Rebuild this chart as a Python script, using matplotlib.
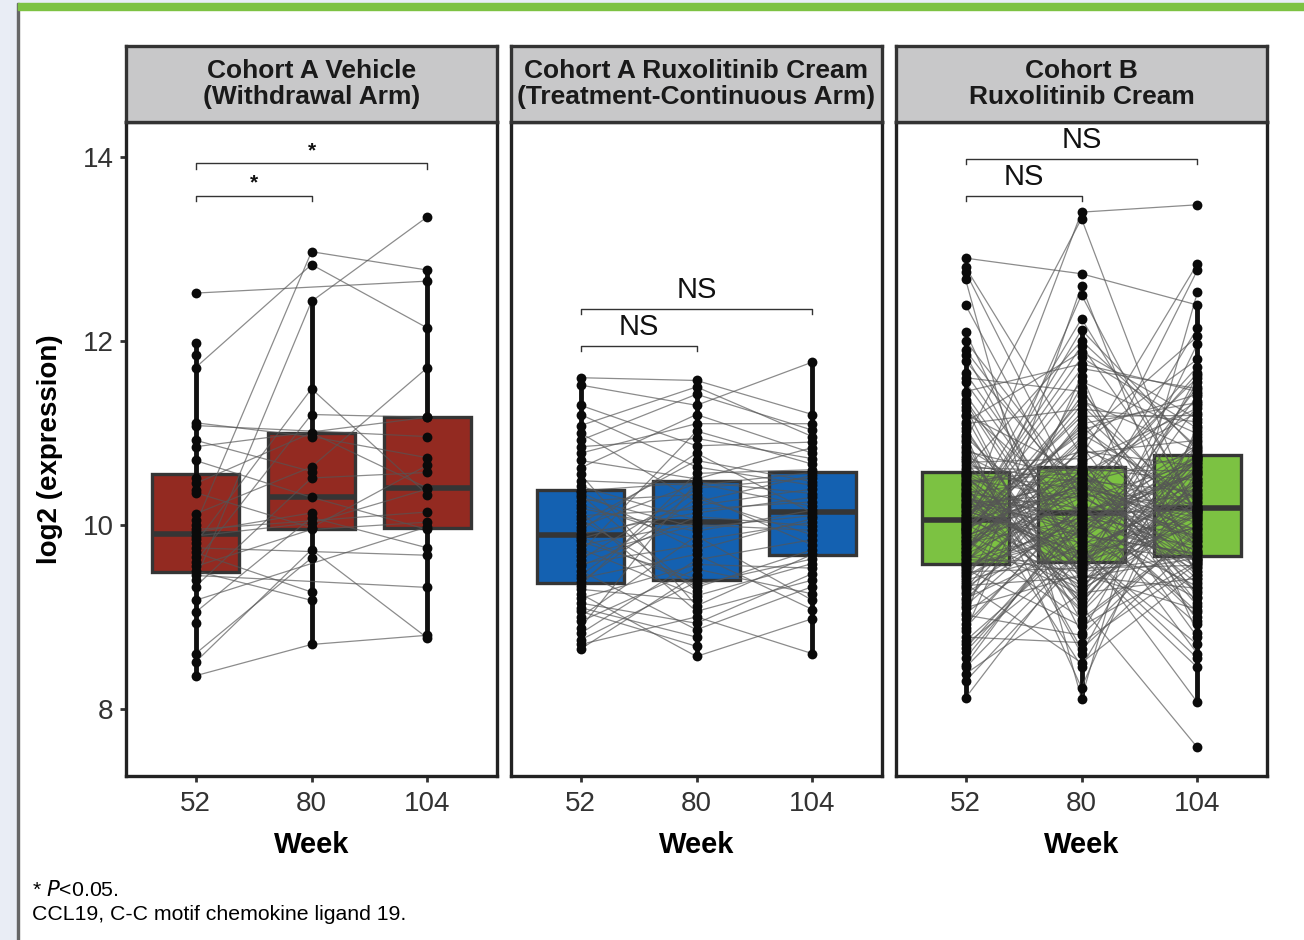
import numpy as np
import matplotlib.pyplot as plt
from matplotlib.patches import Rectangle

plt.rcParams['font.family'] = ['Liberation Sans', 'DejaVu Sans']

nan = np.nan

weeks = ["52", "80", "104"]
titles = ["Cohort A Vehicle\n(Withdrawal Arm)",
          "Cohort A Ruxolitinib Cream\n(Treatment-Continuous Arm)",
          "Cohort B\nRuxolitinib Cream"]
box_colors = ["#932a21", "#1461b1", "#7cc242"]

# Cohort A vehicle, one entry per patient
veh_w52 = [12.52, 11.98, 11.85, 11.71, 11.11, 11.08, 10.92, 10.85, 10.70, 10.51,
           10.45, 10.38, 10.35, 10.12, 10.05, 10.00, 9.95, 9.92, 9.88, 9.85,
           9.80, 9.75, 9.70, 9.65, 9.60, 9.55, 9.50, 9.45, 9.40, 9.33,
           9.18, 9.05, 8.93, 8.60, 8.51, 8.36]
veh_w80 = [nan, nan, nan, 12.83, 10.96, nan, 10.58, nan, 10.30, nan,
           11.00, nan, 9.97, 10.63, nan, 12.97, nan, 10.13, 10.02, nan,
           11.48, nan, 9.27, nan, 11.20, 9.95, 9.18, nan, 12.43, 10.51,
           nan, 10.08, nan, 9.64, 9.73, 8.70]
veh_w104 = [12.65, nan, nan, 12.14, 10.73, 10.96, nan, 11.17, 9.95, nan,
            10.40, nan, 10.65, 11.71, nan, 12.77, 10.14, nan, 10.39, nan,
            10.33, 9.67, nan, nan, 11.17, 10.03, nan, 9.32, 13.35, 10.57,
            9.98, 9.75, nan, nan, 8.77, 8.80]

# Cohort A ruxolitinib cream (treatment-continuous)
rux_w52 = [9.90, 8.65, 10.70, 9.50, 11.60, 9.38, 9.06, 10.22, 9.74, 10.02,
           8.82, 10.42, 10.30, 11.52, 9.62, 9.25, 8.95, 10.85, 10.14, 9.85,
           9.45, 9.15, 10.36, 11.08, 10.55, 9.98, 9.70, 9.00, 9.34, 9.82,
           11.20, 10.06, 10.18, 8.70, 9.55, 10.92, 11.30, 9.66, 10.33, 9.20,
           9.87, 10.62, 8.88, 10.10, 9.10, 10.26, 10.78, 9.42, 10.48, 9.30,
           9.94, 9.78, 9.58, 11.00, 8.75, 10.37]
rux_w80 = [10.13, 9.46, 10.50, 8.86, 11.57, 10.29, 8.68, 9.83, 9.23, 10.70,
           9.62, 10.05, 9.97, 11.30, 10.40, 8.57, 9.52, 10.94, 9.06, 10.21,
           10.37, 8.93, 9.73, 11.50, 9.12, 10.45, 11.02, 9.88, 10.56, 9.41,
           10.63, 9.32, 9.93, 9.00, 10.09, 11.42, 10.86, 10.00, 9.28, 9.57,
           9.35, 11.20, 10.47, 10.17, 8.78, 10.33, 11.10, 9.68, 10.43, 9.18,
           10.78, 10.02, 9.78, 10.25, 9.38, 10.46]
rux_w104 = [10.30, nan, 10.84, 9.33, 11.20, 9.89, nan, 10.03, 9.58, 10.47,
            9.84, nan, 10.10, 11.77, 10.51, 8.98, 9.25, 10.72, 9.40, 10.39,
            nan, 9.47, 10.07, 10.96, 9.68, 10.20, 10.66, 9.18, 10.60, nan,
            10.43, 9.73, 10.16, 8.60, 9.99, 11.03, 10.90, 9.94, nan, 9.53,
            9.63, 10.78, 10.34, 10.25, nan, 9.78, 11.10, 9.08, 10.57, nan,
            10.13, nan, nan, 10.54, nan, nan]

# Cohort B ruxolitinib cream
cb_w52 = [10.22, 9.30, 11.05, 9.88, 8.62, 10.44, 9.70, 12.90, 10.06, 9.49,
          9.96, 11.55, 10.36, 8.98, 10.75, 9.62, 9.15, 12.10, 10.50, 9.80,
          11.28, 9.58, 10.14, 8.45, 9.90, 10.60, 9.42, 10.30, 12.67, 9.74,
          8.85, 10.55, 9.66, 11.90, 10.08, 9.04, 10.40, 9.98, 10.92, 8.30,
          9.84, 10.18, 12.80, 9.56, 10.26, 9.68, 11.12, 8.70, 10.01, 10.47,
          9.25, 10.86, 9.92, 10.34, 11.65, 9.10, 9.60, 10.12, 8.12, 10.70,
          9.78, 10.42, 12.39, 9.52, 10.03, 9.38, 10.20, 11.36, 8.92, 9.86,
          10.57, 10.98, 9.46, 9.72, 10.28, 8.38, 11.78, 9.94, 10.16, 9.34,
          10.65, 9.64, 10.38, 8.78, 12.75, 10.04, 9.54, 10.53, 11.20, 9.76,
          9.20, 10.10, 12.00, 9.82, 8.55, 10.32, 10.80, 10.00, 10.24, 11.45,
          9.87, 10.31, 8.74, 11.10, 10.07, 9.44, 10.68, 9.63, 10.49, 9.18,
          11.42, 9.95, 10.19, 9.02, 10.84, 9.71, 10.39, 9.51, 10.96, 9.99,
          8.48, 10.54, 11.25, 9.79, 10.11, 9.36, 10.62, 9.91, 10.43, 8.88,
          11.85, 9.59, 10.27, 9.48, 10.78, 10.04, 10.15, 9.27, 11.02, 9.75,
          9.12, 10.52, 11.18, 9.67, 10.35, 9.55, 10.73, 9.93, 10.23, 8.66,
          11.60, 9.83, 10.46, 9.40, 10.90, 9.97, 10.56, 9.32, 11.33, 10.02]
cb_w80 = [9.67, 10.86, 9.21, 10.36, 9.99, 8.46, 11.40, 12.73, 13.40, 9.53,
          10.44, 9.81, 9.05, 12.60, 10.14, 9.60, 10.70, 9.40, 10.28, 10.07,
          8.82, 11.14, 10.52, 9.74, 9.30, 12.00, 10.16, 9.90, 8.11, 10.58,
          11.62, 9.84, 9.49, 10.24, 10.99, 9.95, 9.16, 10.40, 13.33, 9.65,
          8.98, 10.48, 10.75, 10.03, 9.56, 10.30, 11.88, 9.72, 9.34, 10.62,
          10.11, 8.60, 11.22, 10.18, 9.86, 9.46, 10.54, 12.24, 9.77, 9.11,
          10.34, 10.80, 10.05, 8.90, 10.42, 11.50, 9.62, 9.55, 10.22, 10.20,
          9.93, 8.23, 10.60, 10.92, 10.12, 9.26, 10.32, 11.06, 9.70, 9.43,
          10.46, 12.50, 10.01, 8.72, 10.26, 11.95, 9.88, 9.51, 10.56, 10.66,
          9.79, 9.37, 10.38, 11.30, 10.09, 9.57, 10.50, 12.12, 9.97, 11.75,
          10.45, 9.08, 9.85, 11.26, 9.52, 10.15, 10.72, 9.96, 9.29, 10.55,
          9.64, 11.03, 10.31, 8.80, 10.06, 10.89, 9.44, 10.41, 9.76, 11.56,
          10.19, 9.19, 10.12, 10.68, 9.89, 8.50, 10.59, 11.35, 9.69, 10.27,
          9.56, 10.83, 10.00, 10.49, 9.14, 11.82, 9.80, 10.61, 9.33, 10.95,
          10.23, 9.61, 8.95, 11.10, 10.51, 9.92, 9.48, 10.78, 10.35, 10.04,
          11.45, 9.24, 10.57, 9.73, 8.65, 11.18, 10.39, 10.10, 9.39, 11.70]
cb_w104 = [10.42, 9.22, 10.96, 9.84, 8.92, 10.60, 9.73, 12.39, 13.48, 9.56,
           10.14, 11.40, 10.30, 9.38, 10.56, 9.98, 9.15, 11.97, 10.68, 9.89,
           11.02, 9.61, 10.21, 8.55, 10.06, 10.84, 9.50, 10.45, 12.53, 9.78,
           8.82, 10.72, 9.67, 11.65, 10.27, 9.33, 10.51, 10.12, 10.00, 8.45,
           9.92, 10.36, 12.84, 9.62, 10.62, 9.71, 11.15, 8.70, 10.16, 10.48,
           9.28, 10.90, 10.04, 10.33, 11.50, 9.08, 9.76, 10.19, 8.07, 7.58,
           10.08, 10.64, 12.14, 9.60, 10.02, 9.46, 10.24, 11.30, 9.00, 9.95,
           10.75, 11.08, 9.53, 9.81, 10.54, 9.42, 11.72, 10.15, 10.39, 9.64,
           10.78, 10.10, 10.58, 9.58, 12.77, 10.13, 9.69, 10.70, 11.22, 9.87,
           9.63, 10.66, 11.60, 10.17, 10.87, 10.73, 11.35, 10.81, 10.74, 11.45,
           9.94, 10.63, 9.20, 11.12, 10.38, 9.72, 8.96, 10.85, 10.14, 9.45,
           10.50, 11.42, 9.59, 10.01, 10.25, 11.80, 9.31, 9.86, 10.71, 10.99,
           9.05, 10.43, 10.16, 11.27, 9.68, 9.49, 10.59, 10.80, 9.97, 8.60,
           11.55, 10.29, 9.77, 9.41, 10.74, 11.05, 10.09, 9.26, 10.47, 12.05,
           9.54, 10.20, 9.90, 11.33, 8.78, 10.67, 10.17, 10.92, 9.36, 10.55,
           10.05, 11.63, 9.12, 10.34, 9.82, 11.19, 9.63, 10.75, 10.11, 11.48]

cohorts = [(veh_w52, veh_w80, veh_w104),
           (rux_w52, rux_w80, rux_w104),
           (cb_w52, cb_w80, cb_w104)]

# significance labels: (label, bracket y for 52-80, bracket y for 52-104)
sig = [("*", 13.58, 13.93), ("NS", 11.95, 12.35), ("NS", 13.58, 13.98)]

W, H = 1304, 940
fig = plt.figure(figsize=(W / 100, H / 100), dpi=100)
fig.patch.set_facecolor("white")

# page decorations
fig.add_artist(Rectangle((0, 0), 17 / W, 1, transform=fig.transFigure,
                         color="#e9edf5", zorder=0))
fig.add_artist(Rectangle((0, 1 - 3 / H), 1, 3 / H, transform=fig.transFigure,
                         color="#e9edf5", zorder=0))
fig.add_artist(Rectangle((17 / W, 0), 1.5 / W, 1 - 3 / H, transform=fig.transFigure,
                         color="#666666", zorder=1))
fig.add_artist(Rectangle((18 / W, 1 - 10 / H), 1, 7 / H, transform=fig.transFigure,
                         color="#7dc242", zorder=1))

lefts = [126, 511, 896]
pw = 371
top, bottom = 122, 776
strip_top = 46
ylo, yhi = 7.27, 14.38

for i, (left, data) in enumerate(zip(lefts, cohorts)):
    ax = fig.add_axes([left / W, 1 - bottom / H, pw / W, (bottom - top) / H])
    arrs = [np.array(d, dtype=float) for d in data]
    clean = [a[~np.isnan(a)] for a in arrs]

    ax.boxplot(clean, positions=[1, 2, 3], widths=0.75, patch_artist=True,
               showfliers=False, whis=1.5,
               boxprops=dict(facecolor=box_colors[i], edgecolor="#353535", linewidth=2.4),
               medianprops=dict(color="#353535", linewidth=4),
               whiskerprops=dict(color="#111111", linewidth=3.5),
               capprops=dict(linewidth=0), zorder=1)

    # patient trajectories
    n = len(arrs[0])
    for p in range(n):
        xs = [k + 1 for k in range(3) if not np.isnan(arrs[k][p])]
        ys = [arrs[k][p] for k in range(3) if not np.isnan(arrs[k][p])]
        if len(xs) > 1:
            ax.plot(xs, ys, color="#555555", lw=0.9, alpha=0.68, zorder=2)

    for k in range(3):
        ax.scatter(np.full(len(clean[k]), k + 1), clean[k], s=50,
                   color="#0a0a0a", linewidths=0, zorder=3)

    # significance brackets
    lab, y1, y2 = sig[i]
    for x2, yb in [(2, y1), (3, y2)]:
        ax.plot([1, 1, x2, x2], [yb - 0.06, yb, yb, yb - 0.06],
                color="#333333", lw=1.0, zorder=4)
        if lab == "*":
            ax.text((1 + x2) / 2, yb + 0.03, lab, ha="center", va="bottom",
                    fontsize=15, fontweight="bold", color="#111111")
        else:
            ax.text((1 + x2) / 2, yb + 0.05, lab, ha="center", va="bottom",
                    fontsize=21, color="#111111")

    ax.set_xlim(0.4, 3.6)
    ax.set_ylim(ylo, yhi)
    ax.set_xticks([1, 2, 3])
    ax.set_xticklabels(weeks, fontsize=20, color="#333333")
    ax.tick_params(axis="x", length=4, width=2, color="#333333", pad=7)
    if i == 0:
        ax.set_yticks([8, 10, 12, 14])
        ax.tick_params(axis="y", length=4, width=2, color="#333333", pad=5,
                       labelsize=20, labelcolor="#333333")
    else:
        ax.set_yticks([])
    for s in ax.spines.values():
        s.set_linewidth(2.4)
        s.set_color("#222222")
    ax.set_xlabel("Week", fontsize=21, fontweight="bold", labelpad=10)

    # facet strip
    sax = fig.add_axes([left / W, 1 - top / H, pw / W, (top - strip_top) / H])
    sax.set_facecolor("#c8c8c9")
    sax.set_xticks([])
    sax.set_yticks([])
    for s in sax.spines.values():
        s.set_linewidth(2.4)
        s.set_color("#333333")
    sax.text(0.5, 0.5, titles[i], ha="center", va="center", fontsize=19,
             fontweight="bold", color="#1a1a1a", linespacing=1.15,
             transform=sax.transAxes)

fig.text(50 / W, 1 - 449 / H, "log2 (expression)", rotation=90, ha="center",
         va="center", fontsize=20, fontweight="bold")

fig.text(32 / W, 1 - 890 / H, "* $\\it{P}$<0.05.", ha="left", va="center",
         fontsize=15.3)
fig.text(32 / W, 1 - 914 / H, "CCL19, C-C motif chemokine ligand 19.", ha="left",
         va="center", fontsize=15.3)

fig.savefig("out.png", dpi=100)
